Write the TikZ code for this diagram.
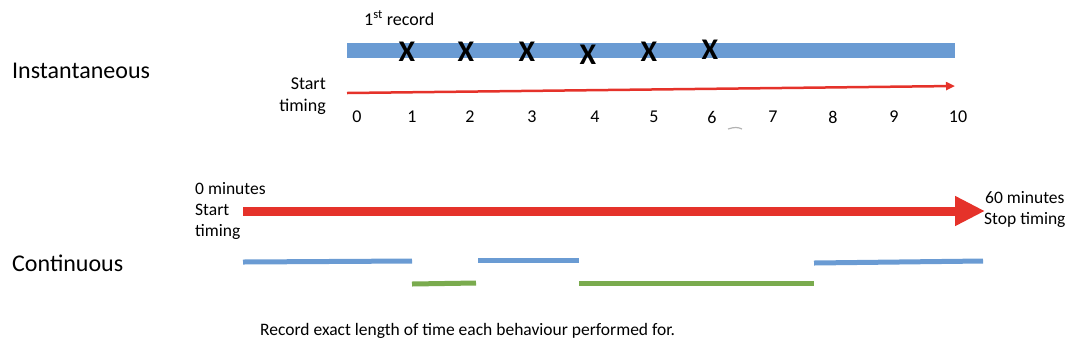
\documentclass[tikz,border=0pt]{standalone}
\usepackage{fontspec}
\setmainfont{Carlito}
\usetikzlibrary{arrows.meta}
\definecolor{barblue}{HTML}{6A9BD3}
\definecolor{bargreen}{HTML}{7AAB4E}
\definecolor{arrred}{HTML}{E5322A}
\tikzset{
  lbl/.style={inner sep=0pt, anchor=west, font=\fontsize{24}{28}\selectfont},
  small/.style={inner sep=0pt, font=\fontsize{17.5}{21}\selectfont, align=left},
  num/.style={inner sep=0pt, font=\fontsize{18}{20}\selectfont},
  xmark/.style={inner sep=0pt, font=\fontsize{30}{30}\selectfont\bfseries},
  bluebar/.style={barblue, line width=5pt},
  greenbar/.style={bargreen, line width=5pt},
}
\begin{document}
\begin{tikzpicture}[x=1pt,y=-1pt]
\useasboundingbox (0,0) rectangle (1078,360);
% Instantaneous
\node[lbl] (inst) at (12,71) {Instantaneous};
\node[small, anchor=west, font=\fontsize{18}{20}\selectfont] (first) at (364,18) {1\textsuperscript{st} record};
\coordinate (bl) at (347,50);
\coordinate (br) at (955,50);
\draw[barblue, line width=15pt] (bl) -- (br);
\foreach \x/\y [count=\i] in {407/52,466/52,527/52,588/55,649/52,710/50}
  \node[xmark] (x\i) at (\x,\y) {X};
\coordinate (ral) at (347,93);
\coordinate (rar) at (955,86);
\draw[arrred, line width=2.5pt, -{Triangle[length=9pt,width=8pt]}] (ral) -- (rar);
\node[small, anchor=east, align=right, font=\fontsize{18}{22}\selectfont] (st1) at (326,96) {Start\\timing};
\foreach \x/\n in {357/0,412/1,470/2,532/3,595/4,654/5,712/6,773/7,833/8,894/9,958/10}
  \node[num] (n\n) at (\x,117) {\n};
\draw[gray!60, line width=1.2pt] (728,129) .. controls (734,127) and (738,127) .. (742,129);
% Continuous
\node[lbl] (cont) at (12,263) {Continuous};
\node[small, anchor=west] (st2) at (195,211) {0 minutes\\Start\\timing};
\coordinate (bal) at (243,211);
\coordinate (bar) at (985,211);
\draw[arrred, line width=9pt, -{Triangle[length=30pt,width=28pt]}] (bal) -- (bar);
\node[small, anchor=west, align=center] (stop) at (984,209) {60 minutes\\Stop timing};
\coordinate (b1a) at (243,262); \coordinate (b1b) at (412,261);
\coordinate (g1a) at (412,284); \coordinate (g1b) at (476,283);
\coordinate (b2a) at (478,260); \coordinate (b2b) at (579,260);
\coordinate (g2a) at (579,283); \coordinate (g2b) at (814,283);
\coordinate (b3a) at (814,263); \coordinate (b3b) at (983,261);
\draw[bluebar] (b1a) -- (b1b);
\draw[greenbar] (g1a) -- (g1b);
\draw[bluebar] (b2a) -- (b2b);
\draw[greenbar] (g2a) -- (g2b);
\draw[bluebar] (b3a) -- (b3b);
\node[small, anchor=west] (note) at (260,331) {Record exact length of time each behaviour performed for.};
\end{tikzpicture}
\end{document}
